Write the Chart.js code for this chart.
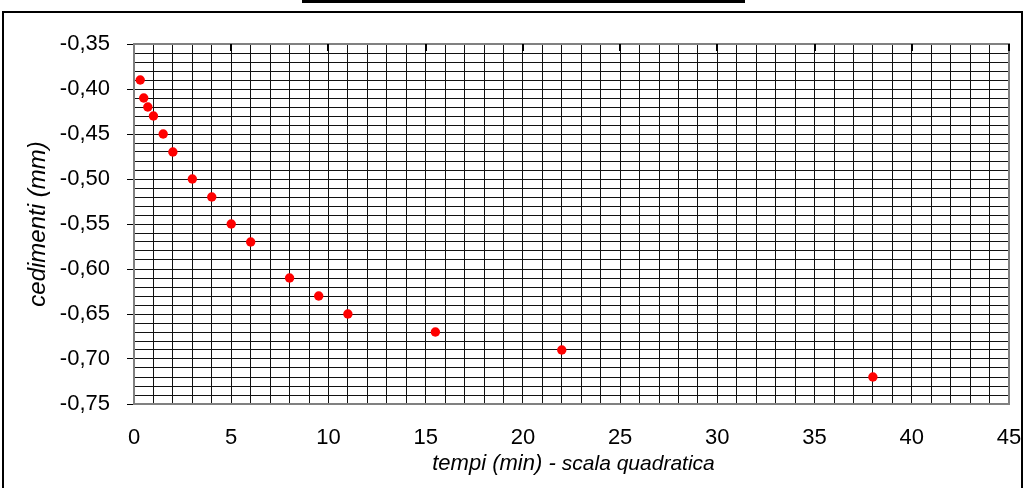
<!DOCTYPE html>
<html>
<head>
<meta charset="utf-8">
<script src="https://cdn.jsdelivr.net/npm/chart.js@4.4.1/dist/chart.umd.min.js"></script>
<style>
  html, body { margin: 0; padding: 0; background: #fff; }
  canvas { display: block; }
</style>
</head>
<body>
<canvas id="c" width="1025" height="488"></canvas>
<script>
// Letture: tempo (radice del tempo, scala quadratica) e cedimenti in mm
const sqrtTempo = [0.32, 0.5, 0.71, 1, 1.5, 2, 3, 4, 5, 6, 8, 9.5, 11, 15.5, 22, 38];
const cedimenti = [-0.39, -0.41, -0.42, -0.43, -0.45, -0.47, -0.50, -0.52, -0.55, -0.57, -0.61, -0.63, -0.65, -0.67, -0.69, -0.72];

// Assi
const xMin = 0, xMax = 45, xMajor = 5, xMinor = 1;
const yMin = -0.75, yMax = -0.35, yMajor = 0.05, yMinor = 0.01;

const FONT = "'Liberation Sans', Arial, sans-serif";

const isMajor = (v, step) => Math.abs(v / step - Math.round(v / step)) < 1e-6;

// Cornice esterna, barra superiore, tacche sull'asse orizzontale e titoli degli assi
const decor = {
  id: 'decor',
  beforeDraw(chart) {
    const c = chart.ctx;
    c.save();
    c.fillStyle = '#fff';
    c.fillRect(0, 0, chart.width, chart.height);
    c.fillStyle = '#000';
    c.fillRect(302, 0, 443, 3);
    c.strokeStyle = '#000';
    c.lineWidth = 2;
    c.strokeRect(3, 12, chart.width - 6, chart.height + 20);
    c.restore();
  },
  afterDraw(chart) {
    const c = chart.ctx;
    const a = chart.chartArea;
    const xs = chart.scales.x;
    c.save();
    // bordo dell'area del grafico
    c.strokeStyle = '#808080';
    c.lineWidth = 2;
    c.strokeRect(a.left, a.top, a.right - a.left, a.bottom - a.top);

    // tacche principali dell'asse x (l'asse incrocia in alto)
    c.strokeStyle = '#000';
    c.lineWidth = 2;
    for (let v = xMin + xMajor; v <= xMax + 1e-9; v += xMajor) {
      const px = Math.round(xs.getPixelForValue(v));
      c.beginPath();
      c.moveTo(px, a.top);
      c.lineTo(px, a.top + 7);
      c.stroke();
    }

    // titolo asse y
    c.fillStyle = '#000';
    c.translate(38, (a.top + a.bottom) / 2);
    c.rotate(-Math.PI / 2);
    c.textAlign = 'center';
    c.textBaseline = 'middle';
    c.font = 'italic 24px ' + FONT;
    c.fillText('cedimenti (mm)', 0, 0);
    c.restore();

    // titolo asse x (due dimensioni di carattere)
    c.save();
    c.fillStyle = '#000';
    c.textBaseline = 'alphabetic';
    const t1 = 'tempi (min) - ';
    const t2 = 'scala quadratica';
    c.font = 'italic 22px ' + FONT;
    const w1 = c.measureText(t1).width;
    c.font = 'italic 21px ' + FONT;
    const w2 = c.measureText(t2).width;
    const x = (a.left + a.right) / 2 - (w1 + w2) / 2 + 2;
    const yb = 470;
    c.textAlign = 'left';
    c.font = 'italic 22px ' + FONT;
    c.fillText(t1, x, yb);
    c.font = 'italic 21px ' + FONT;
    c.fillText(t2, x + w1, yb);
    c.restore();
  }
};

new Chart(document.getElementById('c'), {
  type: 'scatter',
  data: {
    datasets: [{
      data: sqrtTempo.map((t, i) => ({ x: t, y: cedimenti[i] })),
      backgroundColor: '#ff0000',
      borderWidth: 0,
      pointRadius: 4.7,
      pointHoverRadius: 4.7
    }]
  },
  options: {
    responsive: false,
    devicePixelRatio: 1,
    animation: false,
    events: [],
    layout: { padding: { left: 0, right: 16, top: 44, bottom: 0 } },
    plugins: { legend: { display: false }, tooltip: { enabled: false }, title: { display: false } },
    scales: {
      x: {
        type: 'linear',
        min: xMin, max: xMax,
        afterFit(s) { s.height = 84; s.paddingLeft = 0; s.paddingRight = 0; },
        afterBuildTicks(s) {
          const t = [];
          for (let v = xMin; v <= xMax + 1e-9; v += xMinor) t.push({ value: v });
          s.ticks = t;
        },
        grid: { color: '#111', lineWidth: 1, drawTicks: false },
        border: { display: true, color: '#808080', width: 2 },
        ticks: {
          autoSkip: false,
          maxRotation: 0,
          padding: 21,
          color: '#000',
          font: { family: FONT, size: 22 },
          callback: (v) => isMajor(v, xMajor) ? String(Math.round(v)) : ''
        }
      },
      y: {
        type: 'linear',
        min: yMin, max: yMax,
        afterFit(s) { s.width = 134; s.paddingTop = 0; s.paddingBottom = 0; },
        afterBuildTicks(s) {
          const t = [];
          const n = Math.round((yMax - yMin) / yMinor);
          for (let i = 0; i <= n; i++) t.push({ value: +(yMin + i * yMinor).toFixed(4) });
          s.ticks = t;
        },
        grid: {
          color: '#111',
          lineWidth: 1,
          drawTicks: true,
          tickLength: 7,
          tickColor: (ctx) => (ctx.tick && isMajor(ctx.tick.value, yMajor)) ? '#000' : 'rgba(0,0,0,0)'
        },
        border: { display: true, color: '#808080', width: 2 },
        ticks: {
          autoSkip: false,
          padding: 17,
          color: '#000',
          font: { family: FONT, size: 22 },
          callback: (v) => isMajor(v, yMajor) ? v.toFixed(2).replace('.', ',') : ''
        }
      }
    }
  },
  plugins: [decor]
});
</script>
</body>
</html>
